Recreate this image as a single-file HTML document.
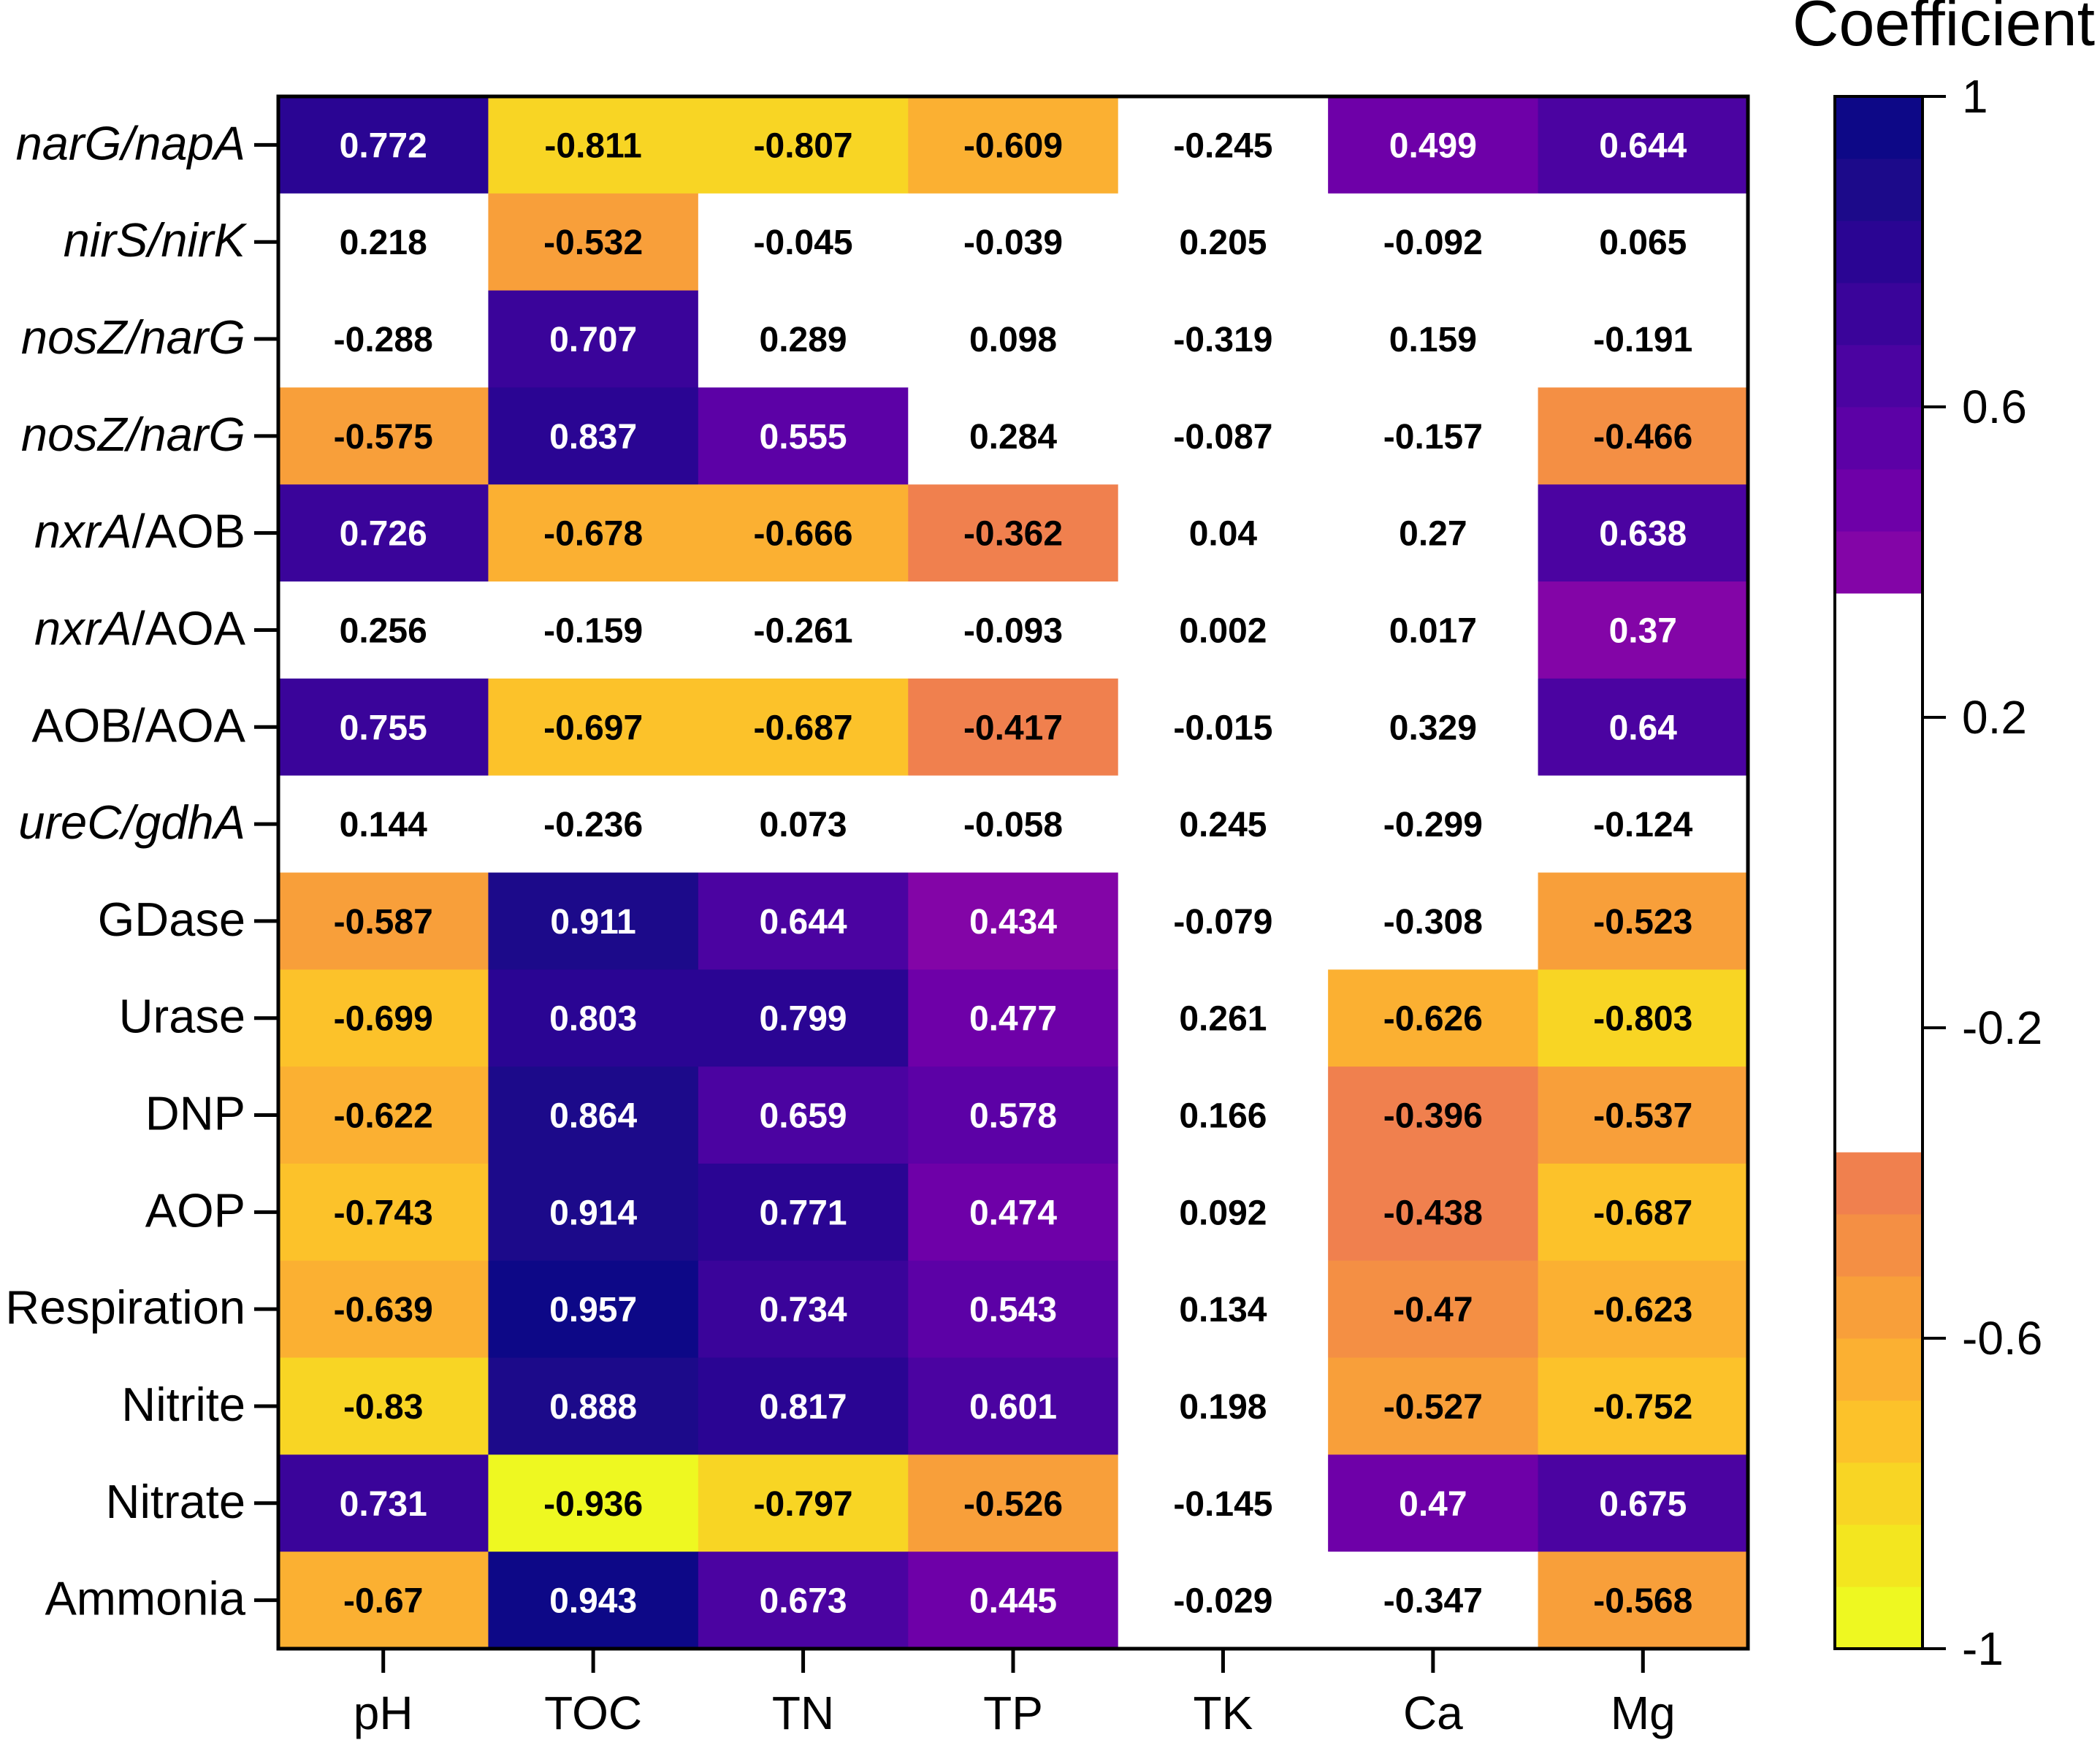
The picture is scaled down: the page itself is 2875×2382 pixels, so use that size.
<!DOCTYPE html>
<html><head><meta charset="utf-8">
<style>
html,body{margin:0;padding:0;background:#fff;}
svg{display:block;font-family:"Liberation Sans",Arial,sans-serif;}
</style></head>
<body>
<svg id="chart" width="2875" height="2382" viewBox="0 0 2875 2382" xmlns="http://www.w3.org/2000/svg"></svg>
<script>
const columns = ["pH","TOC","TN","TP","TK","Ca","Mg"];
const rowLabels = [
  [["narG/napA",true]],
  [["nirS/nirK",true]],
  [["nosZ/narG",true]],
  [["nosZ/narG",true]],
  [["nxrA",true],["/AOB",false]],
  [["nxrA",true],["/AOA",false]],
  [["AOB/AOA",false]],
  [["ureC/gdhA",true]],
  [["GDase",false]],
  [["Urase",false]],
  [["DNP",false]],
  [["AOP",false]],
  [["Respiration",false]],
  [["Nitrite",false]],
  [["Nitrate",false]],
  [["Ammonia",false]]
];
const values = [
  [0.772,-0.811,-0.807,-0.609,-0.245,0.499,0.644],
  [0.218,-0.532,-0.045,-0.039,0.205,-0.092,0.065],
  [-0.288,0.707,0.289,0.098,-0.319,0.159,-0.191],
  [-0.575,0.837,0.555,0.284,-0.087,-0.157,-0.466],
  [0.726,-0.678,-0.666,-0.362,0.04,0.27,0.638],
  [0.256,-0.159,-0.261,-0.093,0.002,0.017,0.37],
  [0.755,-0.697,-0.687,-0.417,-0.015,0.329,0.64],
  [0.144,-0.236,0.073,-0.058,0.245,-0.299,-0.124],
  [-0.587,0.911,0.644,0.434,-0.079,-0.308,-0.523],
  [-0.699,0.803,0.799,0.477,0.261,-0.626,-0.803],
  [-0.622,0.864,0.659,0.578,0.166,-0.396,-0.537],
  [-0.743,0.914,0.771,0.474,0.092,-0.438,-0.687],
  [-0.639,0.957,0.734,0.543,0.134,-0.47,-0.623],
  [-0.83,0.888,0.817,0.601,0.198,-0.527,-0.752],
  [0.731,-0.936,-0.797,-0.526,-0.145,0.47,0.675],
  [-0.67,0.943,0.673,0.445,-0.029,-0.347,-0.568]
];
const cbTicks = [1,0.6,0.2,-0.2,-0.6,-1];
const binColors = [
  "#eef821","#f3e61f","#f8d524","#fcc22a","#fbb032","#f89f3a","#f48f44","#f0804e",
  "#fff","#fff","#fff","#fff","#fff","#fff","#fff","#fff","#fff",
  "#8305a7","#6e00a8","#5c01a6","#4b03a1","#3a049a","#2a0593","#1c0a8a","#0d0887"
];
const NS="http://www.w3.org/2000/svg";
const svg=document.getElementById('chart');
function mk(tag,attrs,parent){const e=document.createElementNS(NS,tag);for(const k in attrs)e.setAttribute(k,attrs[k]);(parent||svg).appendChild(e);return e;}
const L=381,R=2393,T=132,B=2257;
const cw=(R-L)/columns.length, rh=(B-T)/values.length;
function colorFor(v){let i=Math.floor((v+1)/0.08);if(i<0)i=0;if(i>24)i=24;return binColors[i];}
const xC=i=>L+cw*(i+0.5), yC=j=>T+rh*(j+0.5);
const cells=mk('g',{});


values.forEach((row,j)=>row.forEach((v,i)=>{
  const r=mk('rect',{x:L+cw*i,y:T+rh*j,width:cw+0.5,height:rh+0.5,fill:colorFor(v)},cells);
  
  
  const dark=v>=0.36;
  const t=mk('text',{x:xC(i),y:yC(j)+17,'text-anchor':'middle','font-size':48,'font-weight':'bold',fill:dark?'#fff':'#000'},cells);
  t.textContent=String(v);
  
  
}));
const frame=mk('rect',{x:L,y:T,width:R-L,height:B-T,fill:'none',stroke:'#000','stroke-width':5});


rowLabels.forEach((parts,j)=>{
  mk('line',{x1:L-33,x2:L,y1:yC(j),y2:yC(j),stroke:'#000','stroke-width':5});
  const t=mk('text',{x:L-45,y:yC(j)+20,'text-anchor':'end','font-size':65,fill:'#000'});
  
  
  parts.forEach(p=>{const s=mk('tspan',{'font-style':p[1]?'italic':'normal'},t);s.textContent=p[0];});
});
columns.forEach((c,i)=>{
  mk('line',{x1:xC(i),x2:xC(i),y1:B,y2:B+33,stroke:'#000','stroke-width':5});
  const t=mk('text',{x:xC(i),y:B+110,'text-anchor':'middle','font-size':64,fill:'#000'});
  t.textContent=c;
  
  
});
const cL=2512,cR=2632;
const cb=mk('g',{});


const cy=v=>T+(1-v)/2*(B-T);
binColors.forEach((c,k)=>{
  const lo=-1+k*0.08, hi=lo+0.08;
  mk('rect',{x:cL,y:cy(hi),width:cR-cL,height:cy(lo)-cy(hi)+0.5,fill:c},cb);
});
mk('rect',{x:cL,y:T,width:cR-cL,height:B-T,fill:'none',stroke:'#000','stroke-width':4},cb);
cbTicks.forEach(v=>{
  mk('line',{x1:cR,x2:cR+32,y1:cy(v),y2:cy(v),stroke:'#000','stroke-width':4},cb);
  const t=mk('text',{x:cR+54,y:cy(v)+22,'font-size':64,fill:'#000'},cb);
  t.textContent=String(v);
  
  
});
const title=mk('text',{x:2661,y:62,'text-anchor':'middle','font-size':88,fill:'#000'});
title.textContent='Coefficient';


</script>
</body></html>
